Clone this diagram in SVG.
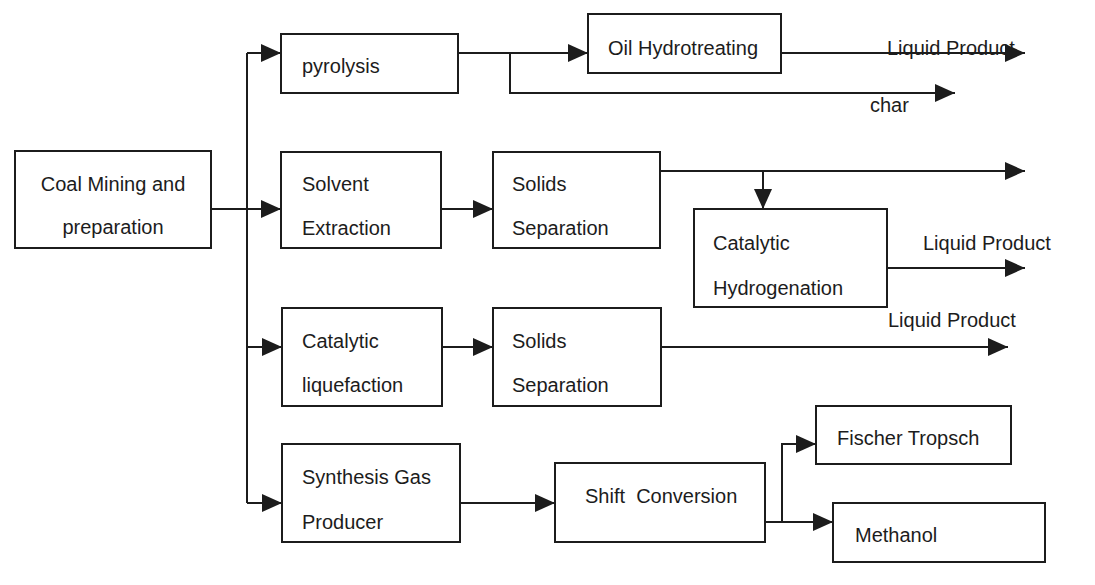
<svg xmlns="http://www.w3.org/2000/svg" width="1095" height="585" viewBox="0 0 1095 585">
<style>
.box{fill:none;stroke:#1c1c1c;stroke-width:2}
.ln{fill:none;stroke:#1c1c1c;stroke-width:2}
.ar{marker-end:url(#ah)}
text{font-family:"Liberation Sans",Arial,sans-serif;font-size:20px;fill:#1c1c1c}
</style>
<defs>
<marker id="ah" markerUnits="userSpaceOnUse" markerWidth="20" markerHeight="18" refX="20" refY="9" orient="auto" viewBox="0 0 20 18">
<path d="M0,0 L20,9 L0,18 z" fill="#1c1c1c"/>
</marker>
</defs>
<rect width="1095" height="585" fill="#ffffff"/>
<g id="connectors">
<path class="ln" d="M211,209 H247"/>
<path class="ln" d="M247,53 V503"/>
<path class="ln ar" d="M247,53 H281"/>
<path class="ln ar" d="M247,209 H281"/>
<path class="ln ar" d="M247,347 H282"/>
<path class="ln ar" d="M247,503 H282"/>
<path class="ln ar" d="M458,53 H588"/>
<path class="ln ar" d="M510,53 V93 H955"/>
<path class="ln ar" d="M781,53 H1025"/>
<path class="ln ar" d="M441,209 H493"/>
<path class="ln ar" d="M660,171 H1025"/>
<path class="ln ar" d="M763,171 V209"/>
<path class="ln ar" d="M887,268 H1025"/>
<path class="ln ar" d="M442,347 H493"/>
<path class="ln ar" d="M661,347 H1008"/>
<path class="ln ar" d="M460,503 H555"/>
<path class="ln ar" d="M765,522 H782 V444 H816"/>
<path class="ln ar" d="M782,522 H833"/>
</g>
<g id="coal">
<rect class="box" x="15" y="151" width="196" height="97"/>
<text x="113" y="191" text-anchor="middle">Coal Mining and</text>
<text x="113" y="234" text-anchor="middle">preparation</text>
</g>
<g id="pyrolysis">
<rect class="box" x="281" y="34" width="177" height="59"/>
<text x="302" y="73">pyrolysis</text>
</g>
<g id="oil-hydrotreating">
<rect class="box" x="588" y="14" width="193" height="59"/>
<text x="608" y="55">Oil Hydrotreating</text>
</g>
<g id="solvent-extraction">
<rect class="box" x="281" y="152" width="160" height="96"/>
<text x="302" y="191">Solvent</text>
<text x="302" y="235">Extraction</text>
</g>
<g id="solids-separation-1">
<rect class="box" x="493" y="152" width="167" height="96"/>
<text x="512" y="191">Solids</text>
<text x="512" y="235">Separation</text>
</g>
<g id="catalytic-hydrogenation">
<rect class="box" x="694" y="209" width="193" height="98"/>
<text x="713" y="250">Catalytic</text>
<text x="713" y="295">Hydrogenation</text>
</g>
<g id="catalytic-liquefaction">
<rect class="box" x="282" y="308" width="160" height="98"/>
<text x="302" y="348">Catalytic</text>
<text x="302" y="392">liquefaction</text>
</g>
<g id="solids-separation-2">
<rect class="box" x="493" y="308" width="168" height="98"/>
<text x="512" y="348">Solids</text>
<text x="512" y="392">Separation</text>
</g>
<g id="synthesis-gas">
<rect class="box" x="282" y="444" width="178" height="98"/>
<text x="302" y="484">Synthesis Gas</text>
<text x="302" y="529">Producer</text>
</g>
<g id="shift-conversion">
<rect class="box" x="555" y="463" width="210" height="79"/>
<text x="585" y="503" xml:space="preserve">Shift  Conversion</text>
</g>
<g id="fischer-tropsch">
<rect class="box" x="816" y="406" width="195" height="58"/>
<text x="837" y="445">Fischer Tropsch</text>
</g>
<g id="methanol">
<rect class="box" x="833" y="503" width="212" height="59"/>
<text x="855" y="542">Methanol</text>
</g>
<g id="labels">
<text x="887" y="55">Liquid Product</text>
<text x="870" y="112">char</text>
<text x="923" y="250">Liquid Product</text>
<text x="888" y="327">Liquid Product</text>
</g>
</svg>
